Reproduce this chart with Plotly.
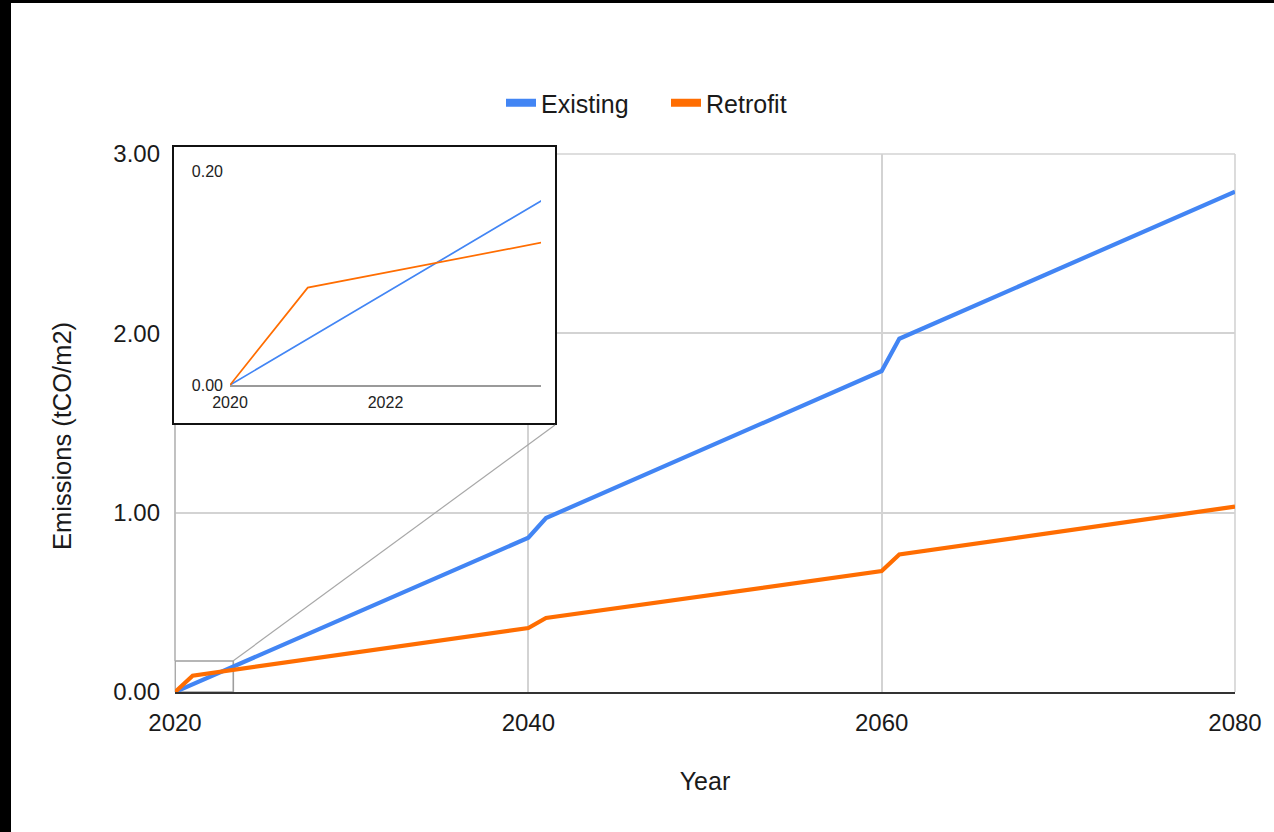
import plotly.graph_objects as go

# Cumulative emissions per floor area, by year
years = [2020, 2021, 2040, 2041, 2060, 2061, 2080]
existing = [0.0, 0.043, 0.86, 0.97, 1.79, 1.97, 2.79]
retrofit = [0.0, 0.091, 0.357, 0.413, 0.674, 0.767, 1.034]

series_names = ["Existing", "Retrofit"]
series_values = [existing, retrofit]
series_colors = ["#4285F4", "#FF6D01"]

x_ticks = [2020, 2040, 2060, 2080]
y_ticks = [0, 1, 2, 3]
inset_x_ticks = [2020, 2022]
inset_y_ticks = [0.0, 0.2]

# Zoomed region shown in the magnifier
zoom_x = (2020, 2023.3)
zoom_y = (0.0, 0.173)

FONT = "Liberation Sans, Arial, sans-serif"
TXT = "#1a1a1a"

W, H = 1274, 832
L, R, T, B = 170, 39, 140, 140
PW = W - L - R
PH = H - T - B


def xp(px):
    return (px - L) / PW


def yp(py):
    return (H - B - py) / PH


fig = go.Figure()

# main lines
for name, vals, col in zip(series_names, series_values, series_colors):
    fig.add_trace(go.Scatter(x=years, y=vals, mode="lines", name=name,
                             line=dict(color=col, width=4.2),
                             showlegend=False, xaxis="x", yaxis="y"))

# legend swatches
for name, col in zip(series_names, series_colors):
    fig.add_trace(go.Scatter(x=[None], y=[None], mode="lines", name=name,
                             line=dict(color=col, width=8),
                             xaxis="x", yaxis="y"))

# magnifier frame (empty subplot)
fig.add_trace(go.Scatter(x=[], y=[], xaxis="x2", yaxis="y2",
                         showlegend=False, hoverinfo="skip"))

# magnified lines
for name, vals, col in zip(series_names, series_values, series_colors):
    fig.add_trace(go.Scatter(x=years, y=vals, mode="lines", name=name,
                             line=dict(color=col, width=1.7),
                             showlegend=False, xaxis="x3", yaxis="y3"))

grid = "#d3d3d3"

fig.update_layout(
    width=W, height=H,
    margin=dict(l=L, r=R, t=T, b=B, autoexpand=False),
    paper_bgcolor="white", plot_bgcolor="white",
    font=dict(family=FONT, size=24, color=TXT),
    showlegend=True,
    legend=dict(orientation="h", xref="container", yref="container",
                x=(500 + 1) / W, xanchor="left", y=(H - 103) / H, yanchor="middle",
                entrywidth=120, font=dict(size=25, color=TXT),
                bgcolor="rgba(0,0,0,0)"),
    xaxis=dict(domain=[xp(175), 1.0], range=[2020, 2080], tickvals=x_ticks,
               tickformat="d", showgrid=True, gridcolor=grid, gridwidth=1.6,
               zeroline=False, showline=True, linecolor="#333333", linewidth=2,
               ticks="", ticklabelstandoff=8, anchor="y",
               title=dict(text="Year", standoff=38, font=dict(size=25))),
    yaxis=dict(domain=[0, yp(154)], range=[0, 3], tickvals=y_ticks,
               tickformat=".2f", showgrid=True, gridcolor=grid, gridwidth=1.6,
               zeroline=False, showline=False, ticks="", ticklabelstandoff=14,
               anchor="x"),
    xaxis2=dict(domain=[xp(174), xp(555)], range=[0, 1], anchor="y2",
                showgrid=False, zeroline=False, showticklabels=False, ticks="",
                showline=True, mirror=True, linecolor="#111111", linewidth=2,
                fixedrange=True),
    yaxis2=dict(domain=[yp(423), yp(147)], range=[0, 1], anchor="x2",
                showgrid=False, zeroline=False, showticklabels=False, ticks="",
                showline=True, mirror=True, linecolor="#111111", linewidth=2,
                fixedrange=True),
    xaxis3=dict(domain=[xp(230), xp(541)], range=[2020, 2024], anchor="y3",
                tickvals=inset_x_ticks, tickformat="d", showgrid=False,
                zeroline=False, showline=True, linecolor="#9a9a9a", linewidth=1.5,
                ticks="", ticklabelstandoff=2,
                tickfont=dict(size=16, color="#222222")),
    yaxis3=dict(domain=[yp(385), yp(171)], range=[0, 0.2], anchor="x3",
                tickvals=inset_y_ticks, tickformat=".2f", showgrid=False,
                zeroline=False, showline=False, ticks="", ticklabelstandoff=6,
                tickfont=dict(size=16, color="#222222")),
)

# vertical axis title
fig.add_annotation(text="Emissions (tCO/m2)", xref="paper", yref="paper",
                   x=xp(62), y=yp(436), textangle=-90, showarrow=False,
                   xanchor="center", yanchor="middle",
                   font=dict(size=25.5, color=TXT, family=FONT))

edge_grid = dict(color=grid, width=1.6)
shapes = [
    # gridlines along the plot edges
    dict(type="line", xref="paper", yref="paper", x0=xp(175), x1=xp(175),
         y0=0, y1=yp(154), line=edge_grid, layer="below"),
    dict(type="line", xref="paper", yref="paper", x0=1.0, x1=1.0,
         y0=0, y1=yp(154), line=edge_grid, layer="below"),
    dict(type="line", xref="paper", yref="paper", x0=xp(175), x1=1.0,
         y0=yp(154), y1=yp(154), line=edge_grid, layer="below"),
    # zoomed region box on main chart
    dict(type="rect", xref="x", yref="y", x0=zoom_x[0], x1=zoom_x[1],
         y0=zoom_y[0], y1=zoom_y[1], line=dict(color="#9e9e9e", width=1.6),
         layer="below"),
    # connector lines to the magnifier
    dict(type="line", xref="paper", yref="paper", x0=xp(233), y0=yp(661),
         x1=xp(555), y1=yp(425), line=dict(color="#a8a8a8", width=1.2),
         layer="above"),
    dict(type="line", xref="paper", yref="paper", x0=xp(175), y0=yp(661),
         x1=xp(175), y1=yp(425), line=dict(color="#b0b0b0", width=1.2),
         layer="above"),
    # dark frame edges
    dict(type="rect", xref="paper", yref="paper", x0=xp(-2), x1=xp(11),
         y0=yp(H + 2), y1=yp(-2), fillcolor="black", line=dict(width=0),
         layer="above"),
    dict(type="rect", xref="paper", yref="paper", x0=xp(-2), x1=xp(W + 2),
         y0=yp(3), y1=yp(-2), fillcolor="black", line=dict(width=0),
         layer="above"),
]
fig.update_layout(shapes=shapes)

fig.write_html("out.html")
